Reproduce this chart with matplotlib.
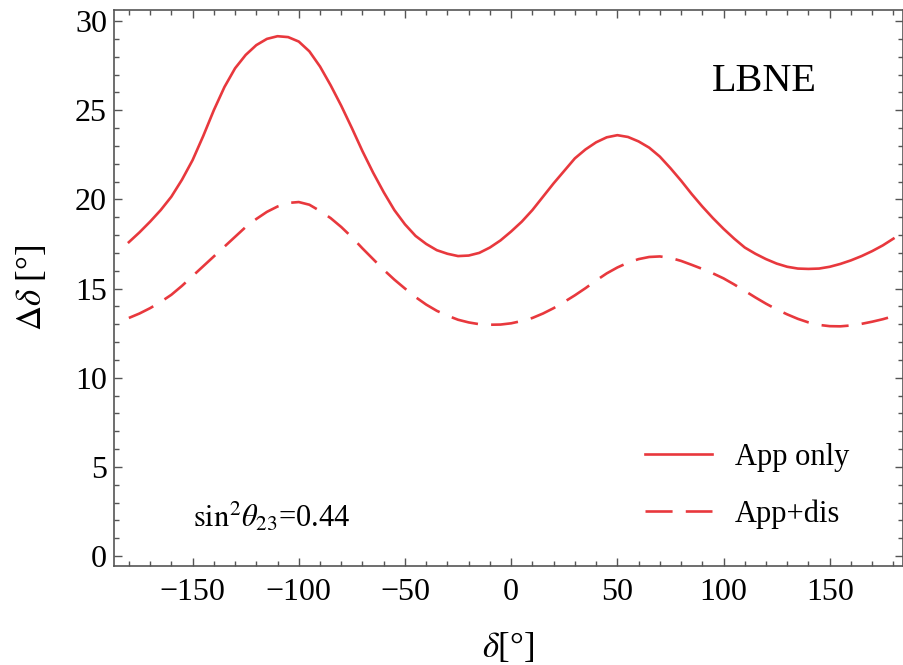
import numpy as np
import matplotlib
matplotlib.use("Agg")
import matplotlib.pyplot as plt
from matplotlib.ticker import MultipleLocator

plt.rcParams['font.family'] = ['Liberation Serif', 'DejaVu Serif']
plt.rcParams['mathtext.fontset'] = 'stix'
plt.rcParams['lines.scale_dashes'] = False

# delta [deg] and the two Delta-delta curves (every 5 deg)
delta = list(range(-180, 181, 5))
app_only = [17.6, 18.15, 18.75, 19.4, 20.15, 21.1, 22.2, 23.55, 25.0, 26.3,
            27.35, 28.1, 28.65, 29.0, 29.15, 29.1, 28.85, 28.3, 27.45, 26.4,
            25.25, 24.0, 22.7, 21.5, 20.4, 19.4, 18.6, 17.95, 17.5, 17.15,
            16.95, 16.82, 16.85, 17.0, 17.3, 17.7, 18.2, 18.75, 19.4, 20.15,
            20.9, 21.6, 22.3, 22.8, 23.2, 23.48, 23.6, 23.5, 23.25, 22.9,
            22.4, 21.75, 21.05, 20.3, 19.6, 18.95, 18.35, 17.8, 17.3, 16.95,
            16.65, 16.4, 16.22, 16.12, 16.1, 16.12, 16.22, 16.38, 16.58, 16.82,
            17.1, 17.42, 17.8]
app_dis = [13.35, 13.6, 13.9, 14.25, 14.65, 15.15, 15.7, 16.25, 16.8, 17.35,
           17.9, 18.45, 18.9, 19.3, 19.6, 19.8, 19.85, 19.7, 19.35, 18.95,
           18.45, 17.88, 17.25, 16.65, 16.05, 15.5, 15.0, 14.52, 14.1, 13.75,
           13.48, 13.25, 13.1, 13.0, 12.97, 12.98, 13.05, 13.18, 13.35, 13.6,
           13.9, 14.25, 14.62, 15.02, 15.45, 15.85, 16.18, 16.45, 16.65, 16.77,
           16.8, 16.72, 16.55, 16.33, 16.1, 15.85, 15.57, 15.23, 14.87, 14.5,
           14.15, 13.83, 13.55, 13.3, 13.1, 12.96, 12.89, 12.88, 12.93, 13.02,
           13.14, 13.28, 13.45]

red = '#e8383d'
gray = '#555555'

fig = plt.figure(figsize=(9.04, 6.65), dpi=100)
ax = fig.add_axes([114/904, 1-566/665, (903-114)/904, (566-10)/665])

ax.plot(delta, app_only, color=red, lw=1.9, label='App only')
ax.plot(delta, app_dis, color=red, lw=1.9, dashes=(19.5, 9.5), label='App+dis')

ax.set_xlim(-187, 184.5)
ax.set_ylim(-0.56, 30.62)
ax.xaxis.set_major_locator(MultipleLocator(50))
ax.xaxis.set_minor_locator(MultipleLocator(10))
ax.yaxis.set_major_locator(MultipleLocator(5))
ax.yaxis.set_minor_locator(MultipleLocator(1))

for s in ax.spines.values():
    s.set_color(gray)
    s.set_linewidth(1.2)
ax.tick_params(which='both', direction='in', top=True, right=True, color=gray, width=1.0)
ax.tick_params(which='major', length=6)
ax.tick_params(which='minor', length=3.5)
ax.tick_params(axis='both', labelsize=23, labelcolor='black')
ax.tick_params(axis='x', pad=9)
ax.tick_params(axis='y', pad=5)

ax.set_xlabel(r'$\delta$[°]', fontsize=25, labelpad=17)
ax.set_ylabel(r'$\Delta\delta$ [°]', fontsize=25, labelpad=19)

ax.text(119.4, 26.6, 'LBNE', fontsize=29, ha='center', va='center')
ax.text(-112.8, 2.2, r'$\mathrm{sin}^2\theta_{23}$=0.44', fontsize=22, ha='center', va='center')

ax.legend(loc='center left', bbox_to_anchor=(645/904, 1-486/665), bbox_transform=fig.transFigure,
          frameon=False, fontsize=22, handlelength=2.2, handletextpad=0.75,
          labelspacing=0.9, borderpad=0, borderaxespad=0)

fig.savefig('out.png', dpi=100)
